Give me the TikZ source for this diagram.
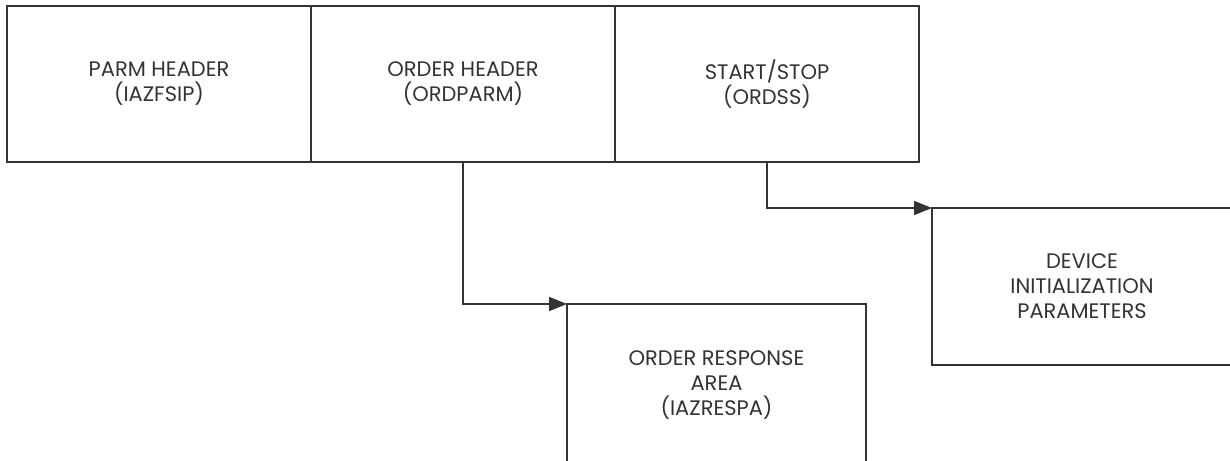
\documentclass[tikz,border=0pt]{standalone}
\usepackage{fontspec}
\setmainfont{Poppins}
\usepackage{tikz}
\usetikzlibrary{arrows.meta,positioning}
\definecolor{inkgray}{RGB}{51,51,51}
\tikzset{
  wire/.style={draw=inkgray,line width=1.6pt},
  flow/.style={wire,-{Triangle[length=18pt,width=14pt]}},
  area/.style={draw=inkgray,line width=1.6pt,outer sep=0pt,inner sep=0pt,
               minimum width=304pt,minimum height=156pt,align=center,
               text=inkgray,font=\fontsize{21}{25}\selectfont},
}
\begin{document}
\begin{tikzpicture}[x=1pt,y=1pt]
  \useasboundingbox (0,0) rectangle (1230,460);
  \clip (0,0) rectangle (1230,460);

  \node[area] (PARM) at (159,376) {PARM HEADER\\(IAZFSIP)};
  \node[area,right=0pt of PARM] (ORDHDR) {ORDER HEADER\\(ORDPARM)};
  \node[area,right=0pt of ORDHDR] (ORDSS) {START/STOP\\(ORDSS)};

  \node[area,minimum width=299pt,minimum height=162pt] (RESPA) at (716.5,75)
    {ORDER RESPONSE\\AREA\\(IAZRESPA)};
  \node[area,minimum width=300pt,minimum height=157pt] (DEVINIT) at (1082,173.5)
    {DEVICE\\INITIALIZATION\\PARAMETERS};

  \draw[flow] (ORDHDR.south) |- (RESPA.north west);
  \draw[flow] (ORDSS.south) |- (DEVINIT.north west);
\end{tikzpicture}
\end{document}
